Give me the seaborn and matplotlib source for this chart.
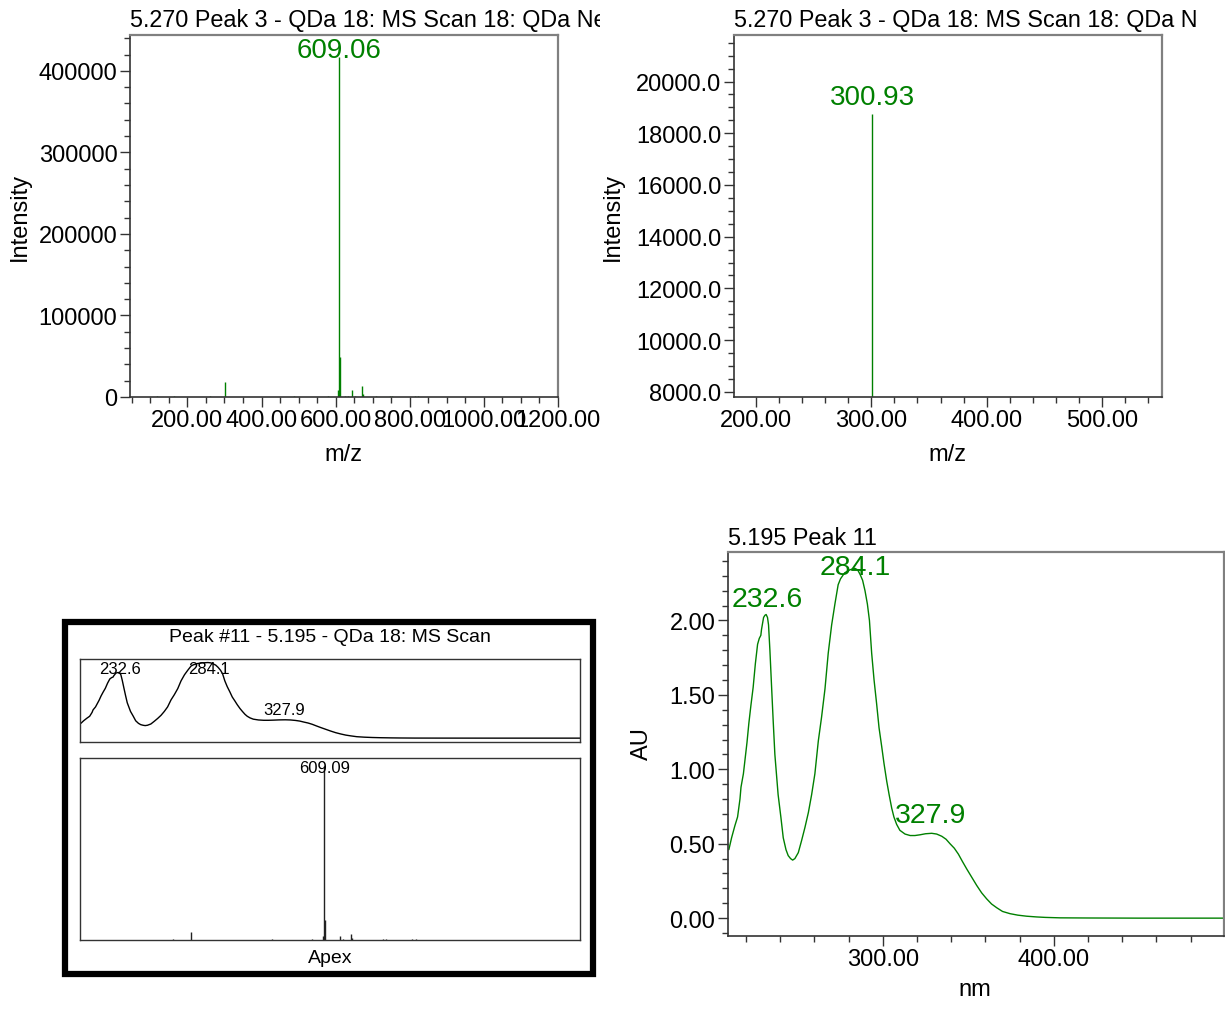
import numpy as np
import matplotlib
matplotlib.use("Agg")
import matplotlib.pyplot as plt
import seaborn as sns
from matplotlib.patches import Rectangle
from matplotlib.ticker import MultipleLocator, FormatStrFormatter
from matplotlib.transforms import Bbox

# -------------------------
# DATA
# -------------------------

# MS scan 5.270 (Peak 3), negative mode - m/z and intensity
ms_mz = [118.5, 165, 260, 302, 488, 580, 607, 609.06, 611, 625, 632, 645.4,
         652, 672, 673.4, 708, 746, 752, 813, 822]
ms_int = [800, 800, 1200, 19000, 1200, 1200, 8600, 417000, 49000, 800, 800,
          8600, 1200, 13500, 4000, 800, 1200, 1200, 1200, 1600]

# zoomed MS scan (only one line visible above 7800)
zoom_mz = [300.93]
zoom_int = [18750]

# UV spectrum 5.195 Peak 11
uv_nm = [210, 211.6, 213.5, 215.1, 216.5, 217.1, 218.5, 219.4, 220.6, 221.7,
         222.9, 224.2, 225.5, 226.8, 227.8, 228.7, 229.1, 230.3, 231.1, 231.8,
         232.6, 233.2, 234.0, 235.0, 235.9, 236.9, 238.8, 240.4, 241.8, 243.4,
         244.7, 246.1, 247.3, 248.6, 250.6, 252.5, 254.5, 256.5, 258.4, 260.3,
         262.3, 264.2, 266.2, 268.1, 270.1, 272, 273.9, 275.3, 277.7, 280.7,
         283.7, 285.3, 286.7, 288.2, 289.6, 291, 292.2, 293.5, 294.9, 296.4,
         297.8, 299.4, 300.7, 302.3, 303.7, 305.2, 306.5, 308.1, 310, 313,
         316, 318.8, 321.8, 325, 328.6, 331.5, 334.5, 337, 339.3, 341.8,
         344.2, 346.6, 349.1, 352, 354.9, 357.8, 360.7, 363.6, 366.6, 370,
         374.4, 379, 384.1, 390, 395, 403.7, 420, 450, 500]
uv_au = [0.46, 0.54, 0.62, 0.68, 0.80, 0.88, 0.97, 1.06, 1.18, 1.31,
         1.43, 1.55, 1.71, 1.84, 1.88, 1.90, 1.94, 2.02, 2.035, 2.04,
         2.02, 1.97, 1.80, 1.55, 1.33, 1.10, 0.83, 0.68, 0.54, 0.46,
         0.42, 0.40, 0.39, 0.40, 0.44, 0.52, 0.61, 0.71, 0.83, 0.97,
         1.19, 1.35, 1.54, 1.78, 1.97, 2.11, 2.24, 2.28, 2.32, 2.34,
         2.35, 2.34, 2.31, 2.27, 2.20, 2.11, 2.00, 1.78, 1.60, 1.44,
         1.28, 1.15, 1.04, 0.92, 0.83, 0.74, 0.68, 0.63, 0.59, 0.565,
         0.555, 0.555, 0.56, 0.567, 0.57, 0.565, 0.55, 0.53, 0.50, 0.47,
         0.43, 0.38, 0.33, 0.275, 0.22, 0.17, 0.13, 0.095, 0.07, 0.045,
         0.03, 0.02, 0.013, 0.008, 0.005, 0.002, 0.001, 0.0, 0.0]

uv_peaks = [232.6, 284.1, 327.9]
uv_peak_labels = ["232.6", "284.1", "327.9"]

ms_title = "5.270 Peak 3 - QDa 18: MS Scan 18: QDa Ne"
zoom_title = "5.270 Peak 3 - QDa 18: MS Scan 18: QDa N"
uv_title = "5.195 Peak 11"
inset_title = "Peak #11 - 5.195 - QDa 18: MS Scan"
inset_ms_label = "609.09"

GREEN = "#008000"

sns.set_style("ticks")
plt.rcParams["font.family"] = ["Liberation Sans", "DejaVu Sans"]
plt.rcParams["text.color"] = "black"
plt.rcParams["axes.labelcolor"] = "black"
plt.rcParams["xtick.color"] = "black"
plt.rcParams["ytick.color"] = "black"

W, H = 1225, 1012
fig = plt.figure(figsize=(W / 100, H / 100), dpi=100)


def px_axes(x0, y0, x1, y1):
    # pixel box (top-left origin) -> figure axes
    return fig.add_axes([x0 / W, 1 - y1 / H, (x1 - x0) / W, (y1 - y0) / H])


def style_axes(ax):
    for s in ["left", "bottom"]:
        ax.spines[s].set_color("#333333")
        ax.spines[s].set_linewidth(1.2)
    for s in ["top", "right"]:
        ax.spines[s].set_color("#808080")
        ax.spines[s].set_linewidth(1.6)
    ax.tick_params(which="both", direction="out", color="#333333",
                   labelcolor="black", labelsize=17, width=1, pad=2)
    ax.tick_params(which="major", length=7)
    ax.tick_params(which="minor", length=4.5)
    ax.grid(False)


def label_peak(ax, x, y, text, color, size, offset, top_frac):
    y0, y1 = ax.get_ylim()
    if (y - y0) / (y1 - y0) > top_frac:
        ax.annotate(text, xy=(x, 1), xycoords=("data", "axes fraction"),
                    xytext=(0, -1.5), textcoords="offset points",
                    ha="center", va="top", color=color, fontsize=size)
    else:
        ax.annotate(text, xy=(x, y), xytext=(0, offset),
                    textcoords="offset points", ha="center", va="baseline",
                    color=color, fontsize=size)


# -------------------------
# 1. full MS scan
# -------------------------
ax1 = px_axes(130, 36, 558, 398)
ax1.vlines(ms_mz, 0, ms_int, color=GREEN, lw=1)
ax1.set_xlim(45, 1200)
ax1.set_ylim(0, 444000)
ax1.xaxis.set_major_locator(MultipleLocator(200))
ax1.xaxis.set_minor_locator(MultipleLocator(50))
ax1.xaxis.set_major_formatter(FormatStrFormatter("%.2f"))
ax1.yaxis.set_major_locator(MultipleLocator(100000))
ax1.yaxis.set_minor_locator(MultipleLocator(20000))
ax1.yaxis.set_major_formatter(FormatStrFormatter("%d"))
style_axes(ax1)
ax1.set_xlabel("m/z", fontsize=17)
ax1.set_ylabel("Intensity", fontsize=17)
ax1.xaxis.set_label_coords(0.498, -0.127)
ax1.yaxis.set_label_coords(-0.231, 0.5)
t1 = ax1.set_title(ms_title, loc="left", fontsize=16.8, pad=6.5)
t1.set_clip_box(Bbox([[0, 0], [600, H]]))
t1.set_clip_on(True)
imax = int(np.argmax(ms_int))
label_peak(ax1, ms_mz[imax], ms_int[imax], f"{ms_mz[imax]:.2f}", GREEN, 20, 7, 0.9)

# -------------------------
# 2. zoomed MS scan
# -------------------------
ax2 = px_axes(734, 36, 1162, 398)
ax2.vlines(zoom_mz, 0, zoom_int, color=GREEN, lw=1)
ax2.set_xlim(181, 552)
ax2.set_ylim(7800, 21800)
ax2.xaxis.set_major_locator(MultipleLocator(100))
ax2.xaxis.set_minor_locator(MultipleLocator(20))
ax2.xaxis.set_major_formatter(FormatStrFormatter("%.2f"))
ax2.yaxis.set_major_locator(MultipleLocator(2000))
ax2.yaxis.set_minor_locator(MultipleLocator(500))
ax2.yaxis.set_major_formatter(FormatStrFormatter("%.1f"))
style_axes(ax2)
ax2.set_xlabel("m/z", fontsize=17)
ax2.set_ylabel("Intensity", fontsize=17)
ax2.xaxis.set_label_coords(0.498, -0.127)
ax2.yaxis.set_label_coords(-0.257, 0.5)
ax2.set_title(zoom_title, loc="left", fontsize=16.8, pad=6.5)
for mz, it in zip(zoom_mz, zoom_int):
    label_peak(ax2, mz, it, f"{mz:.2f}", GREEN, 20, 7, 0.9)

# -------------------------
# 3. UV spectrum
# -------------------------
ax3 = px_axes(728, 553, 1224, 937)
sns.lineplot(x=uv_nm, y=uv_au, color=GREEN, lw=1, ax=ax3)
ax3.set_xlim(209.5, 499.5)
ax3.set_ylim(-0.12, 2.46)
ax3.xaxis.set_major_locator(MultipleLocator(100))
ax3.xaxis.set_minor_locator(MultipleLocator(20))
ax3.xaxis.set_major_formatter(FormatStrFormatter("%.2f"))
ax3.yaxis.set_major_locator(MultipleLocator(0.5))
ax3.yaxis.set_minor_locator(MultipleLocator(0.1))
ax3.yaxis.set_major_formatter(FormatStrFormatter("%.2f"))
style_axes(ax3)
ax3.set_xlabel("nm", fontsize=17)
ax3.set_ylabel("AU", fontsize=17)
ax3.xaxis.set_label_coords(0.498, -0.109)
ax3.yaxis.set_label_coords(-0.151, 0.505)
ax3.set_title(uv_title, loc="left", fontsize=16.8, pad=6)
for pk, lab in zip(uv_peaks, uv_peak_labels):
    label_peak(ax3, pk, np.interp(pk, uv_nm, uv_au), lab, GREEN, 20.5, 8.5, 0.93)

# -------------------------
# 4. thumbnail box (UV + MS at apex)
# -------------------------
fig.patches.append(Rectangle((65 / W, 1 - 975 / H), 528 / W, 352 / H,
                             transform=fig.transFigure, fill=False,
                             edgecolor="black", lw=4.5))
fig.text(330 / W, 1 - 638 / H, inset_title, ha="center", va="center", fontsize=14)
fig.text(330 / W, 1 - 959 / H, "Apex", ha="center", va="center", fontsize=14)

ax4 = px_axes(80, 660, 580, 743)
sns.lineplot(x=uv_nm, y=uv_au, color="black", lw=1, ax=ax4)
ax4.set_xlim(209.5, 499.5)
ax4.set_ylim(-0.12, 2.46)
ax5 = px_axes(80, 759, 580, 941)
ax5.vlines(ms_mz, 0, ms_int, color="#222222", lw=1)
ax5.set_xlim(45, 1200)
ax5.set_ylim(0, 436000)
for ax in (ax4, ax5):
    ax.set_xticks([])
    ax.set_yticks([])
    ax.set_xlabel("")
    ax.set_ylabel("")
    for s in ax.spines.values():
        s.set_color("#333333")
        s.set_linewidth(1)
for pk, lab in zip(uv_peaks, uv_peak_labels):
    label_peak(ax4, pk, np.interp(pk, uv_nm, uv_au), lab, "black", 12, 4, 0.75)
label_peak(ax5, ms_mz[imax], ms_int[imax], inset_ms_label, "black", 12, 4, 0.9)

fig.savefig("out.png", dpi=100)
